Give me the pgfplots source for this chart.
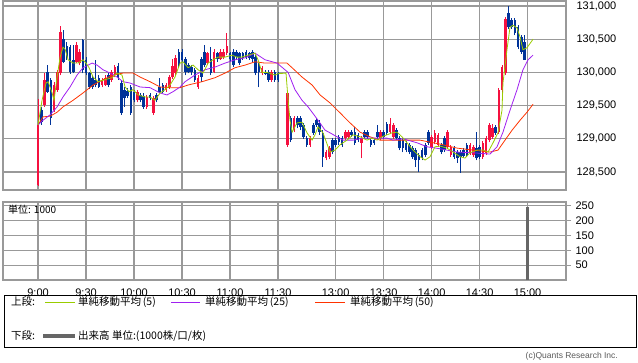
\documentclass[border=0pt]{standalone}
\usepackage{pgfplots}
\pgfplotsset{compat=1.18}
\usepackage{pgfplotstable}
\usepackage{fontspec}
\setmainfont{Liberation Sans}
\newfontfamily\jp{Noto Sans CJK JP}
\definecolor{upc}{HTML}{F5103F}
\definecolor{dnc}{HTML}{003399}
\definecolor{ma5c}{HTML}{99CC00}
\definecolor{ma25c}{HTML}{A020F0}
\definecolor{ma50c}{HTML}{FF3300}
\definecolor{gridc}{HTML}{999999}
\definecolor{volc}{HTML}{666666}

\pgfplotstableread{
m o h l c
0 128300 129600 128290 129210
4 129510 129990 129480 129890
10 129430 129860 129400 129810
12 129740 130040 129710 130000
14 129990 130700 129960 130610
24 130160 130460 130140 130410
26 130140 130350 130110 130310
40 129810 129920 129780 129890
42 129810 129960 129800 129920
46 129890 130040 129860 130000
48 129960 130110 129930 130080
62 129580 129740 129550 129710
68 129480 129660 129450 129630
72 129390 129650 129360 129620
80 129740 129840 129710 129810
82 129780 129960 129750 129930
84 129930 130200 129900 130100
86 129990 130260 129960 130220
100 129780 129960 129750 129920
106 130140 130310 130110 130290
110 130000 130350 129990 130310
114 130200 130350 130190 130310
116 130230 130350 130200 130310
118 130290 130590 130260 130400
140 129990 130100 129960 130070
146 129890 130040 129860 130000
156 128910 129720 128880 129690
160 129130 129340 129100 129310
170 128910 129040 128880 129010
180 128710 128830 128680 128800
182 128730 128890 128700 128860
192 129010 129130 128980 129100
194 129030 129130 129000 129100
202 128940 129040 128710 129010
214 129010 129130 128980 129100
220 129100 129310 129070 129220
222 129030 129240 129000 129210
246 128880 129060 128850 129030
248 128950 129130 128920 129090
250 128910 129090 128880 129060
256 128880 129130 128850 129100
258 128760 128910 128730 128880
270 128790 128940 128760 128910
272 128760 128910 128730 128880
278 128730 128970 128700 128940
280 128790 129040 128760 129010
282 128980 129240 128950 129210
284 129030 129220 129000 129160
288 129100 129770 129070 129740
290 129740 130110 129710 130080
292 129990 130830 129960 130800
}\up

\pgfplotstableread{
m o h l c
2 129430 129480 129210 129250
6 130000 130110 129690 129710
8 129890 129920 129210 129310
16 130500 130640 130140 130160
18 130400 130460 130190 130220
20 130380 130410 129980 130000
22 130190 130410 129990 130000
28 130490 130500 129990 130040
30 130190 130230 129960 129990
32 129990 130000 129750 129780
34 129920 129960 129750 129780
36 129890 130190 129780 129810
38 129920 129960 129770 129780
44 129960 129990 129780 129810
50 130100 130140 129890 129930
52 129840 129890 129360 129390
54 129740 129780 129480 129620
56 129720 129760 129620 129650
58 129780 129810 129360 129390
60 129710 129740 129550 129580
64 129660 129690 129550 129580
66 129650 129690 129450 129480
70 129660 129690 129580 129620
74 129660 129690 129550 129580
76 129780 129920 129690 129710
78 129810 129840 129690 129710
88 130310 130350 130080 130110
90 130310 130350 130160 130190
92 130200 130230 129960 130000
94 130110 130140 129990 130000
96 130080 130110 129960 130000
98 130040 130070 129860 129890
102 130200 130230 129860 129930
104 130310 130410 130080 130110
108 130200 130380 129960 129990
112 130290 130310 130160 130200
120 130290 130310 130160 130200
122 130310 130350 130080 130110
124 130310 130330 130200 130230
126 130290 130310 130110 130140
128 130290 130310 130190 130220
130 130310 130330 130200 130230
132 130290 130310 130190 130220
134 130310 130330 130160 130200
136 130230 130260 129960 129990
138 130110 130140 129780 130000
142 130000 130040 129960 129980
144 130000 130040 129860 129890
148 130000 130040 129860 129890
150 129990 130010 129860 129890
158 129310 129340 128950 128980
162 129310 129340 129160 129210
164 129310 129340 129130 129180
166 129210 129240 129000 129030
168 129010 129040 128880 128910
172 129210 129240 129060 129090
174 129280 129310 129180 129210
176 129240 129280 129060 129100
178 129090 129130 128580 128730
184 128980 129010 128770 128800
186 128980 129010 128880 128910
188 129030 129060 128910 128950
190 129010 129040 128880 128910
196 129100 129130 129030 129060
198 129100 129180 128910 128940
200 129060 129090 128950 128980
204 129100 129130 129000 129030
206 129100 129130 129000 129030
208 128980 129010 128880 128910
210 128980 129010 128910 128940
212 129100 129210 129000 129030
216 129100 129130 129000 129030
218 129220 129250 129060 129090
224 129130 129160 128980 129010
226 129010 129040 128830 128860
228 128980 129010 128800 128860
230 128940 128970 128800 128830
232 128910 128940 128770 128800
234 128860 128890 128700 128730
236 128830 128860 128580 128680
238 128760 128790 128500 128680
240 128830 128860 128680 128710
242 128910 128940 128730 128760
244 129100 129130 128910 128940
252 128910 128940 128770 128800
254 129010 129040 128800 128830
260 128860 128890 128700 128730
262 128800 128830 128640 128710
264 128800 128830 128490 128730
266 128830 128860 128710 128740
268 128910 128940 128730 128760
274 128860 129100 128680 128710
276 128880 128910 128700 128730
286 129180 129210 129060 129090
294 130890 131000 130650 130680
296 130790 130820 130650 130680
298 130790 130820 130560 130590
300 130680 130710 130350 130380
302 130530 130560 130280 130310
304 130460 130560 130190 130190
}\dn

\pgfplotstableread{
m p
0 129210
2.5 129580
5 129840
6.3 129860
8.8 129690
10 129580
11.9 129930
13.8 130230
15.6 130380
16.9 130350
18.8 130190
21.9 130140
25 130140
28.1 130190
30 130140
31.9 130070
34.4 129930
37.5 129860
41.9 129890
46.3 129920
49.4 129990
52.5 129960
54.4 129780
56.9 129710
59.4 129740
62.5 129660
66.9 129630
70 129630
73.1 129580
76.3 129690
79.4 129740
82.5 129810
85.6 129930
88.8 130140
90.6 130160
93.8 130070
96.9 130110
100 130040
103.1 129990
106.3 130140
109.4 130190
112.5 130230
116.9 130230
121.3 130260
124.4 130230
127.5 130230
131.3 130260
135.6 130290
137.5 130190
140 130000
143.1 130000
148.1 129960
150 129980
155 129990
156.3 129580
157.5 129280
158.8 129100
161.9 129240
165 129250
168.1 129090
171.3 128980
173.1 129060
175 129180
178.1 129090
182.5 128800
185.6 128830
188.8 128910
193.1 128980
196.9 129060
201.3 129030
205.6 128980
208.8 129010
211.9 128980
215 129030
218.1 129060
221.3 129090
224.4 129100
227.5 129030
230.6 128940
234.4 128830
238.8 128730
241.9 128680
245 128730
248.1 128880
251.3 128890
255.6 128860
259.4 128800
263.8 128730
266.9 128710
270 128790
274.4 128830
278.1 128830
281.3 128800
284.4 128940
287.5 129090
290 129430
290.6 129840
293.1 130340
295 130680
296.9 130710
299.4 130670
301.3 130530
303.1 130340
305.6 130370
309.4 130500
}\maf

\pgfplotstableread{
m p
0 129210
3.1 129280
7.5 129360
11.9 129480
15.6 129630
20 129780
24.4 129960
28.1 130070
33.8 130140
36.9 130110
40.6 130040
45 129990
49.4 129930
53.1 129860
57.5 129840
63.8 129780
70 129770
76.3 129690
80.6 129660
84.4 129710
88.8 129780
91.9 129860
98.1 129960
104.4 130040
110.6 130080
116.9 130140
123.1 130190
129.4 130220
135.6 130290
141.9 130190
149.4 130140
156.3 130000
160.6 129740
165 129580
168.8 129480
175 129280
179.4 129130
182.5 129090
186.9 129030
190.6 128980
196.9 128980
203.1 129010
209.4 129010
218.1 129010
221.9 128980
228.1 129000
236.9 128940
243.1 128880
251.3 128850
261.9 128800
271.9 128790
282.5 128770
286.9 128880
290.6 129100
295 129430
299.4 129740
303.1 130040
306.3 130190
309.4 130260
}\mam

\pgfplotstableread{
m p
0 129210
3.1 129330
7.5 129340
11.9 129400
15.6 129480
21.9 129580
28.1 129690
34.4 129810
40.6 129890
46.9 129960
53.1 129990
59.4 129990
63.8 129930
70 129860
76.3 129780
82.5 129770
88.8 129770
93.8 129810
102.5 129860
110.6 129920
116.9 129990
123.1 130070
129.4 130110
135.6 130160
141.9 130140
149.4 130140
155.6 130140
158.8 130070
165 129930
171.3 129810
176.3 129660
182.5 129540
188.8 129390
195 129240
201.3 129100
207.5 129030
213.8 128980
221.9 128980
230.6 128980
238.8 128980
245 128950
251.3 128920
261.9 128860
271.9 128830
282.5 128800
287.5 128830
291.9 128980
296.3 129130
301.3 129280
305.6 129400
309.4 129520
}\mal

\pgfplotsset{
  candle wick/.style={only marks, mark=*, mark size=0pt, mark options={draw=none, fill=none}, error bars/.cd, y dir=plus, y explicit, error mark=none, error bar style={draw=#1, line width=1pt}},
  candle body/.style={only marks, mark=*, mark size=0pt, mark options={draw=none, fill=none}, error bars/.cd, y dir=plus, y explicit, error mark=none, error bar style={draw=#1, line width=2.6pt}},
  panel/.style={scale only axis, width=563pt, xmin=-21.9, xmax=330,
    axis line style={draw=gridc, line width=1.1pt},
    grid=major, major grid style={draw=gridc, line width=1.1pt},
    xtick={0,30,60,90,120,150,186,216,246,276,306},
    yticklabel pos=right,
    xtick style={draw=none},
    scaled y ticks=false,
    tick label style={font=\fontsize{11}{11}\selectfont},
    /pgf/number format/assume math mode=true,
    /pgf/number format/.cd, 1000 sep={,}, fixed, precision=0},
}

\begin{document}
\begin{tikzpicture}
\path[use as bounding box] (0pt,0pt) rectangle (638pt,-362pt);

\begin{axis}[panel, at={(3pt,-1pt)}, anchor=north west, height=189pt,
  ymin=128229, ymax=131075,
  ytick={128500,129000,129500,130000,130500,131000},
  xticklabels={}, ytick style={draw=none},
  yticklabel style={xshift=7pt}]
\addplot[candle wick=upc] table[x=m, y=l, y error plus expr=\thisrow{h}-\thisrow{l}] \up;
\addplot[candle body=upc] table[x=m, y=o, y error plus expr=\thisrow{c}-\thisrow{o}] \up;
\addplot[candle wick=dnc] table[x=m, y=l, y error plus expr=\thisrow{h}-\thisrow{l}] \dn;
\addplot[candle body=dnc] table[x=m, y=c, y error plus expr=\thisrow{o}-\thisrow{c}] \dn;
\addplot[ma50c, line width=0.8pt, mark=none] table[x=m, y=p] \mal;
\addplot[ma25c, line width=0.8pt, mark=none] table[x=m, y=p] \mam;
\addplot[ma5c, line width=0.8pt, mark=none] table[x=m, y=p] \maf;
\end{axis}

\begin{axis}[panel, at={(3pt,-202pt)}, anchor=north west, height=78pt,
  ymin=0, ymax=263, ytick={50,100,150,200,250},
  xticklabels={9:00,9:30,10:00,10:30,11:00,11:30,13:00,13:30,14:00,14:30,15:00},
  ytick pos=right, tick align=outside, major tick length=5pt,
  ytick style={draw=gridc, line width=1.1pt},
  yticklabel style={xshift=1pt}]
\addplot[ycomb, draw=volc, line width=3pt, mark=none] coordinates {(306,245)};
\node[anchor=north west, inner sep=0pt, font=\jp\fontsize{10}{10}\selectfont] at (rel axis cs:0,1) [xshift=5pt, yshift=-3pt] {単位: 1000};
\end{axis}

\draw[black, line width=1pt] (4pt,-295pt) rectangle (636pt,-347pt);
\begin{scope}[every node/.style={anchor=west, inner sep=0pt, font=\jp\fontsize{10.5}{10.5}\selectfont}]
\node at (11pt,-302pt) {上段:};
\draw[ma5c, line width=0.8pt] (45pt,-302pt) -- (75pt,-302pt);
\node at (78pt,-302pt) {単純移動平均\,(5)};
\draw[ma25c, line width=0.8pt] (171pt,-302pt) -- (200pt,-302pt);
\node at (205pt,-302pt) {単純移動平均\,(25)};
\draw[ma50c, line width=0.8pt] (315pt,-302pt) -- (345pt,-302pt);
\node at (350pt,-302pt) {単純移動平均\,(50)};
\node at (11pt,-336pt) {下段:};
\draw[volc, line width=3.5pt] (43pt,-336pt) -- (75pt,-336pt);
\node at (78pt,-336pt) {出来高 単位:(1000株/口/枚)};
\end{scope}
\node[anchor=east, inner sep=0pt, text=black!65, font=\fontsize{8.5}{8.5}\selectfont] at (618pt,-356pt) {(c)Quants Research Inc.};
\end{tikzpicture}
\end{document}
